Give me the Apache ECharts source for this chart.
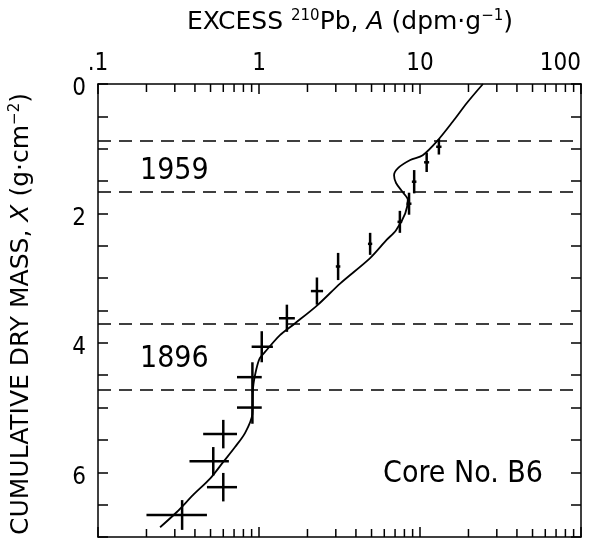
<!DOCTYPE html>
<html>
<head>
<meta charset="utf-8">
<script src="https://cdn.jsdelivr.net/npm/echarts@6/dist/echarts.min.js"></script>
<style>
  html, body { margin: 0; padding: 0; background: #fff; }
  #chart { width: 603px; height: 547px; }
</style>
</head>
<body>
<div id="chart"></div>
<script>
// measured points (A = excess 210Pb, X = cumulative dry mass)
var pointA = [13.1, 11.0, 9.2, 8.55, 7.5, 4.9, 3.1, 2.29, 1.49, 1.04, 0.91, 0.91, 0.60, 0.52, 0.60, 0.333]
var pointX = [0.97, 1.21, 1.51, 1.85, 2.13, 2.47, 2.82, 3.20, 3.62, 4.06, 4.53, 5.00, 5.41, 5.83, 6.23, 6.66]
var aLow   = [12.6, 10.6, 8.9, 8.25, 7.25, 4.75, 3.0, 2.1, 1.33, 0.90, 0.73, 0.73, 0.45, 0.37, 0.475, 0.20]
var aHigh  = [13.6, 11.4, 9.5, 8.85, 7.75, 5.05, 3.2, 2.5, 1.67, 1.22, 1.04, 1.04, 0.73, 0.65, 0.73, 0.475]
var xErr   = [0.12, 0.15, 0.18, 0.17, 0.17, 0.17, 0.21, 0.21, 0.21, 0.24, 0.23, 0.25, 0.22, 0.22, 0.22, 0.23]

// model curve
var curveA = [24.6, 19.6, 16.0, 12.9, 10.4, 8.7, 7.3, 6.9, 7.1, 7.8, 8.4, 8.1, 7.1, 6.2, 4.9, 3.2, 2.3, 1.67, 1.35, 1.09, 1.01, 0.96, 0.92, 0.91, 0.82, 0.71, 0.60, 0.50, 0.39, 0.31, 0.243]
var curveX = [0, 0.29, 0.58, 0.87, 1.10, 1.175, 1.30, 1.41, 1.53, 1.67, 1.79, 2.0, 2.26, 2.41, 2.69, 3.08, 3.42, 3.70, 3.88, 4.14, 4.24, 4.42, 4.68, 5.1, 5.39, 5.61, 5.84, 6.09, 6.35, 6.61, 6.85]

// dashed horizons
var horizonX = [0.87, 1.67, 3.70, 4.72]

// log minor ticks
var minorTicks = [0.2, 0.3, 0.4, 0.5, 0.6, 0.7, 0.8, 0.9, 2, 3, 4, 5, 6, 7, 8, 9, 20, 30, 40, 50, 60, 70, 80, 90]
var yLabels = [0, 2, 4, 6]

var font = "'Liberation Sans Narrow', 'DejaVu Sans Condensed', 'Liberation Sans', sans-serif"
var wide = "'DejaVu Sans', sans-serif"

var errData = pointA.map(function (a, i) {
  return [a, pointX[i], aLow[i], aHigh[i], pointX[i] - xErr[i], pointX[i] + xErr[i]]
})
var curveData = curveA.map(function (a, i) { return [a, curveX[i]] })

var chart = echarts.init(document.getElementById('chart'))

var axisLine = { show: true, onZero: false, lineStyle: { color: '#000', width: 1.5 } }
var tick = { show: true, inside: true, length: 10, lineStyle: { color: '#000', width: 1.5 } }

function richSet(size) {
  return {
    n: { fontSize: size, fontFamily: wide, fill: '#000' },
    i: { fontSize: size, fontFamily: wide, fontStyle: 'italic', fill: '#000' },
    s: { fontSize: 15, fontFamily: wide, fill: '#000', padding: [0, 0, 11, 0] }
  }
}

chart.setOption({
  animation: false,
  grid: { left: 98, right: 22, top: 84, bottom: 10 },
  xAxis: [{
    type: 'log', logBase: 10, min: 0.1, max: 100, position: 'top',
    axisLine: axisLine, axisTick: tick, splitLine: { show: false },
    axisLabel: {
      color: '#000', fontSize: 24, fontFamily: font, margin: 8,
      alignMaxLabel: 'right',
      formatter: function (v) { return v < 1 ? '.1' : String(Math.round(v)) }
    }
  }, {
    type: 'log', logBase: 10, min: 0.1, max: 100, position: 'bottom',
    axisLine: axisLine, axisTick: tick, splitLine: { show: false },
    axisLabel: { show: false }
  }],
  yAxis: [{
    type: 'value', inverse: true, min: 0, max: 7, interval: 0.5, position: 'left',
    axisLine: axisLine, axisTick: tick, splitLine: { show: false },
    axisLabel: {
      margin: 12,
      formatter: function (v) { return yLabels.indexOf(v) >= 0 ? '{d|' + v + '}' : '' },
      rich: { d: { color: '#000', fontSize: 24, fontFamily: font, padding: [10, 0, 0, 0] } }
    }
  }, {
    type: 'value', inverse: true, min: 0, max: 7, interval: 0.5, position: 'right',
    axisLine: axisLine, axisTick: tick, splitLine: { show: false },
    axisLabel: { show: false }
  }],
  graphic: [{
    type: 'text', x: 350, y: 22,
    style: {
      text: '{n|EXCESS }{s|210}{n|Pb, }{i|A}{n| (dpm·g}{s|−1}{n|)}',
      align: 'center', verticalAlign: 'middle',
      rich: richSet(25)
    }
  }, {
    type: 'text', x: 21, y: 314, rotation: Math.PI / 2,
    style: {
      text: '{n|CUMULATIVE DRY MASS, }{i|X}{n| (g·cm}{s|−2}{n|)}',
      align: 'center', verticalAlign: 'middle',
      rich: richSet(25)
    }
  }, {
    type: 'text', x: 140, y: 171,
    style: { text: '1959', fontSize: 30, fontFamily: font, fill: '#000', verticalAlign: 'middle' }
  }, {
    type: 'text', x: 140, y: 359,
    style: { text: '1896', fontSize: 30, fontFamily: font, fill: '#000', verticalAlign: 'middle' }
  }, {
    type: 'text', x: 543, y: 474,
    style: { text: 'Core No. B6', fontSize: 30, fontFamily: font, fill: '#000', align: 'right', verticalAlign: 'middle' }
  }],
  series: [{
    // minor log ticks, top and bottom
    type: 'custom',
    silent: true,
    clip: false,
    data: minorTicks,
    renderItem: function (params, api) {
      var v = api.value(0)
      var top = api.coord([v, 0])
      var bot = api.coord([v, 7])
      var st = { stroke: '#000', lineWidth: 1.5 }
      return {
        type: 'group',
        children: [
          { type: 'line', shape: { x1: top[0], y1: top[1], x2: top[0], y2: top[1] + 8 }, style: st },
          { type: 'line', shape: { x1: bot[0], y1: bot[1], x2: bot[0], y2: bot[1] - 8 }, style: st }
        ]
      }
    }
  }, {
    type: 'line',
    data: curveData,
    showSymbol: false,
    smooth: 0.3,
    lineStyle: { color: '#000', width: 1.8 },
    markLine: {
      silent: true,
      symbol: 'none',
      label: { show: false },
      lineStyle: { color: '#000', width: 1.5, type: [13, 8] },
      data: horizonX.map(function (h) { return { yAxis: h } })
    }
  }, {
    // error crosses
    type: 'custom',
    data: errData,
    renderItem: function (params, api) {
      var c = api.coord([api.value(0), api.value(1)])
      var l = api.coord([api.value(2), api.value(1)])
      var r = api.coord([api.value(3), api.value(1)])
      var t = api.coord([api.value(0), api.value(4)])
      var b = api.coord([api.value(0), api.value(5)])
      var st = { stroke: '#000', lineWidth: 2.5 }
      return {
        type: 'group',
        children: [
          { type: 'line', shape: { x1: l[0], y1: c[1], x2: r[0], y2: c[1] }, style: st },
          { type: 'line', shape: { x1: c[0], y1: t[1], x2: c[0], y2: b[1] }, style: st }
        ]
      }
    }
  }]
})
</script>
</body>
</html>
